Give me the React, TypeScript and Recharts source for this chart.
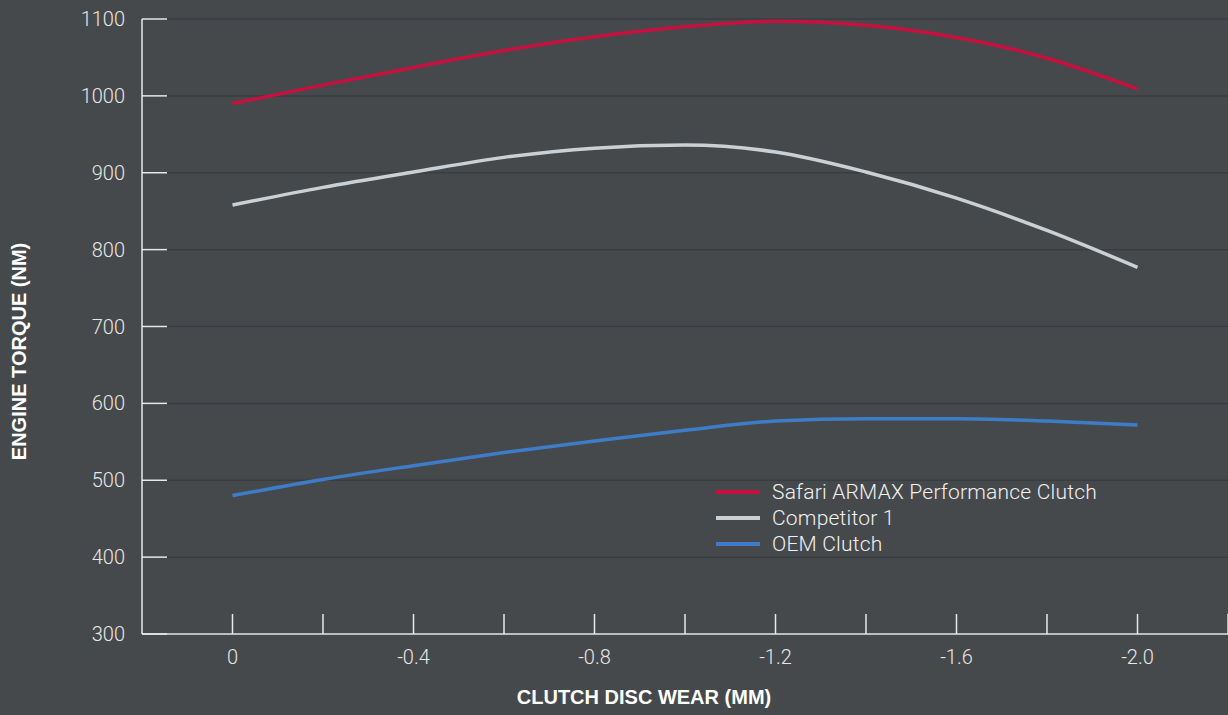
import { LineChart, Line, XAxis, YAxis, CartesianGrid } from "recharts";

const wear = [0, -0.2, -0.4, -0.6, -0.8, -1.0, -1.2, -1.4, -1.6, -1.8, -2.0];
const safariArmax = [990, 1014, 1037, 1059, 1077, 1090, 1097, 1092, 1076, 1049, 1009];
const competitor1 = [858, 881, 901, 920, 932, 936, 927, 901, 867, 825, 777];
const oemClutch = [480, 501, 519, 536, 551, 565, 577, 580, 580, 577, 572];

const xTicks = [0, -0.2, -0.4, -0.6, -0.8, -1.0, -1.2, -1.4, -1.6, -1.8, -2.0, -2.2];
const xLabels = ["0", "", "-0.4", "", "-0.8", "", "-1.2", "", "-1.6", "", "-2.0", ""];
const yTicks = [300, 400, 500, 600, 700, 800, 900, 1000, 1100];

const series = [
  { key: "safari", name: "Safari ARMAX Performance Clutch", color: "#c8103e" },
  { key: "competitor", name: "Competitor 1", color: "#c9d1d7" },
  { key: "oem", name: "OEM Clutch", color: "#3f7cc8" },
];

const data = wear.map((w, i) => ({
  wear: w,
  safari: safariArmax[i],
  competitor: competitor1[i],
  oem: oemClutch[i],
}));

const BG = "#46494c";
const AXIS = "#e8e8e8";
const FONT = "Roboto, 'Liberation Sans', sans-serif";
const TITLE_FONT = "'Liberation Sans', Arial, sans-serif";

// legend sits inside the plot, lower right
const LegendBox = () => (
  <div
    style={{
      position: "absolute",
      left: 716,
      top: 479,
      fontFamily: FONT,
      fontWeight: 300,
      fontSize: 21,
      letterSpacing: 0.2,
      color: "#f0f0f0",
    }}
  >
    {series.map((s) => (
      <div key={s.key} style={{ display: "flex", alignItems: "center", height: 26 }}>
        <span style={{ display: "inline-block", width: 44, height: 4, background: s.color, marginRight: 12 }} />
        <span>{s.name}</span>
      </div>
    ))}
  </div>
);

// y title is set a little below the plot's middle, as in the original
const YTitle = ({ viewBox }: any) => {
  const x = 26;
  const y = viewBox.y + viewBox.height / 2 + 25;
  return (
    <text
      x={x}
      y={y}
      transform={`rotate(-90 ${x} ${y})`}
      textAnchor="middle"
      fill="#ffffff"
      fontSize={20}
      fontWeight={700}
      fontFamily={TITLE_FONT}
    >
      ENGINE TORQUE (NM)
    </text>
  );
};

const App = () => {
  return (
    <div style={{ position: "absolute", left: 0, top: 0, width: 1228, height: 715, background: BG }}>
      <LineChart width={1228} height={715} data={data} margin={{ top: 19, right: 0, bottom: 51, left: 0 }}>
        <CartesianGrid horizontal vertical={false} stroke="#3a3d40" strokeWidth={1.5} />
        <XAxis
          dataKey="wear"
          type="number"
          domain={[-2.2, 0.2]}
          reversed
          ticks={xTicks}
          interval={0}
          height={30}
          tickFormatter={(v, i) => xLabels[i] ?? ""}
          stroke={AXIS}
          strokeWidth={1.5}
          tickSize={-20}
          tickMargin={36}
          tick={{ fill: "#e6e6e6", fontSize: 20, fontFamily: FONT, fontWeight: 300 }}
          label={{
            value: "CLUTCH DISC WEAR (MM)",
            position: "insideBottom",
            offset: -40,
            dx: -41,
            fill: "#ffffff",
            fontSize: 20,
            fontWeight: 700,
            fontFamily: TITLE_FONT,
          }}
        />
        <YAxis
          type="number"
          domain={[300, 1100]}
          ticks={yTicks}
          interval={0}
          width={142}
          stroke={AXIS}
          strokeWidth={1.5}
          tickSize={-25}
          tickMargin={42}
          tick={{ fill: "#e6e6e6", fontSize: 20, fontFamily: FONT, fontWeight: 300 }}
          label={{ content: YTitle }}
        />
        {series.map((s) => (
          <Line
            key={s.key}
            type="monotone"
            dataKey={s.key}
            name={s.name}
            stroke={s.color}
            strokeWidth={3.5}
            dot={false}
            activeDot={false}
            isAnimationActive={false}
          />
        ))}
      </LineChart>
      <LegendBox />
    </div>
  );
};

export default App;
